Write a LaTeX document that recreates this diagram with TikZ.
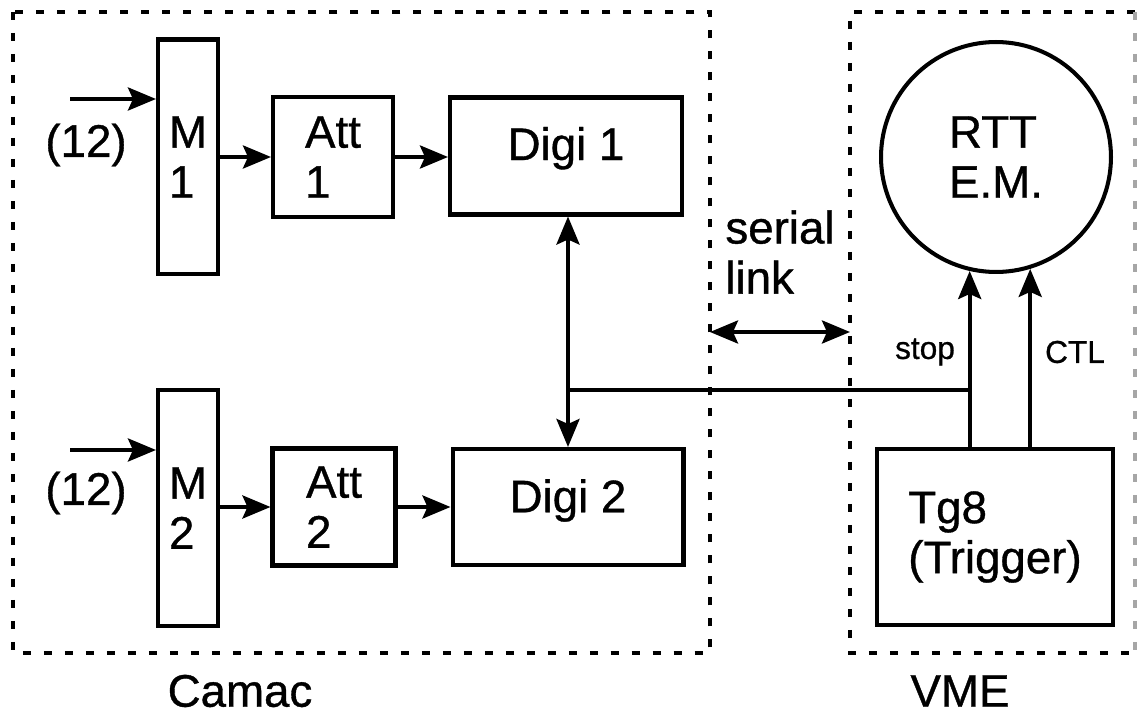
\documentclass[tikz,border=0pt]{standalone}
\usepackage{fontspec}
\setmainfont{Liberation Sans}[FakeBold=0.8]
\usetikzlibrary{arrows.meta}
\tikzset{
  blk/.style={draw,line width=2.3pt,inner sep=0pt},
  frame/.style={line width=2.3pt,dash pattern=on 0.16cm off 0.26cm},
  small/.style={font=\fontsize{18}{20}\selectfont},
}
\begin{document}
\begin{tikzpicture}[x=0.02cm,y=-0.02cm,line width=2.3pt,>={Stealth[length=0.56cm,width=0.46cm,inset=0.1cm]},font=\fontsize{26}{28.5}\selectfont]
\useasboundingbox (0,0) rectangle (1137,716);
% crates
\draw[frame] (13,12) rectangle (710,653);
\draw[frame] (1135,12) -- (850,12) -- (850,653) -- (1135,653);
\draw[frame,black!35] (1135,12) -- (1135,653);
% modules
\node[blk,minimum width=1.2cm,minimum height=4.7cm,align=left] (M1) at (188,157) {M\\1};
\node[blk,minimum width=1.2cm,minimum height=4.72cm,align=left] (M2) at (188,508) {M\\2};
\node[blk,minimum width=2.4cm,minimum height=2.4cm,align=left] (Att1) at (333,157) {Att\\1};
\node[blk,minimum width=2.46cm,minimum height=2.34cm,align=left] (Att2) at (334,507) {Att\\2};
\node[blk,minimum width=4.64cm,minimum height=2.34cm,text depth=0.5cm] (Digi1) at (566,156) {Digi 1};
\node[blk,minimum width=4.62cm,minimum height=2.32cm,text depth=0.45cm] (Digi2) at (568,507) {Digi 2};
\node[blk,circle,minimum size=4.6cm,align=left] (RTT) at (996,157) {RTT\\E.M.};
\node[blk,minimum width=4.72cm,minimum height=3.52cm,align=left] (Tg8) at (995,537) {Tg8\\(Trigger)};
% labels
\node (in1lbl) at (86,145) {(12)};
\node (in2lbl) at (86,493) {(12)};
\node[align=left] (serial) at (780,252) {serial\\link};
\node (camac) at (240,691) {Camac};
\node (vme) at (960,691) {VME};
\node[small] (stoplbl) at (925,352) {stop};
\node[small] (ctllbl) at (1075,352) {CTL};
\coordinate (in1) at (70,99);
\coordinate (in2) at (70,450);
\coordinate (jn) at (568,390);
\coordinate (linkW) at (710,332);
\coordinate (linkE) at (850,332);
% signals
\draw[->] (in1) -- (in1 -| M1.west);
\draw[->] (in2) -- (in2 -| M2.west);
\draw[->] (M1.east |- Att1.west) -- (Att1.west);
\draw[->] (Att1.east) -- (Att1.east -| Digi1.west);
\draw[->] (M2.east |- Att2.west) -- (Att2.west);
\draw[->] (Att2.east) -- (Att2.east -| Digi2.west);
\draw[<->] (jn |- Digi1.south) -- (jn |- Digi2.north);
\draw (jn) -- (jn -| RTT.257);
\draw[->] (RTT.257 |- Tg8.north) -- (RTT.257);
\draw[->] (RTT.287 |- Tg8.north) -- (RTT.287);
\draw[<->] (linkW) -- (linkE);
\end{tikzpicture}
\end{document}
